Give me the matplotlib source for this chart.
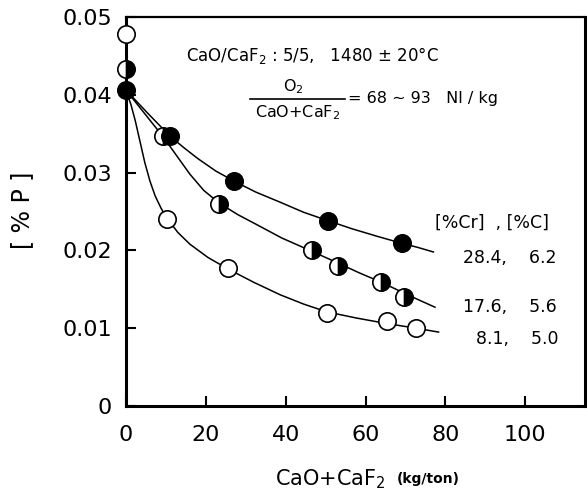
import numpy as np
import matplotlib
matplotlib.use("Agg")
import matplotlib.pyplot as plt

plt.rcParams["font.family"] = ["DejaVu Sans"]
plt.rcParams["mathtext.default"] = "regular"

open_x = [0, 10.3, 25.6, 50.3, 65.3, 72.7]
open_y = [0.0478, 0.0241, 0.0178, 0.0120, 0.0109, 0.0100]
half_x = [0, 9.3, 23.3, 46.5, 53.0, 64.0, 69.7]
half_y = [0.0433, 0.0347, 0.0260, 0.0200, 0.0180, 0.0159, 0.0140]
full_x = [0, 11.0, 27.1, 50.7, 69.2]
full_y = [0.0406, 0.0347, 0.0289, 0.0238, 0.0209]

# hand drawn curves, vertices
open_cx = [0, 1.2, 2.3, 3.5, 4.7, 6.0, 7.3, 8.8, 10.3, 13.0, 16.0, 20.5, 25.6, 32.0,
           38.6, 44.5, 50.3, 57.8, 65.3, 72.7, 78.3]
open_cy = [0.0405, 0.0388, 0.0367, 0.0340, 0.0313, 0.0289, 0.0270, 0.0254, 0.0241,
           0.0223, 0.0208, 0.0191, 0.0176, 0.0159, 0.0143, 0.0131, 0.0121, 0.0113,
           0.0106, 0.0100, 0.0095]
half_cx = [0, 9.3, 16.0, 19.5, 23.3, 28.0, 32.8, 39.0, 46.5, 53.0, 58.5, 64.0, 69.7,
           73.5, 77.4]
half_cy = [0.0406, 0.0346, 0.0298, 0.0277, 0.0261, 0.0246, 0.0233, 0.0216, 0.0199,
           0.0184, 0.0171, 0.0159, 0.0145, 0.0136, 0.0127]
full_cx = [0, 5.5, 11.0, 14.5, 18.0, 22.5, 27.1, 32.5, 38.6, 44.5, 50.7, 56.5, 63.0,
           69.2, 73.0, 77.0]
full_cy = [0.0406, 0.0376, 0.0347, 0.0332, 0.0318, 0.0302, 0.0289, 0.0275, 0.0262,
           0.0249, 0.0238, 0.0228, 0.0218, 0.0209, 0.0204, 0.0198]

series_labels = ["28.4,    6.2", "17.6,    5.6", "8.1,    5.0"]
xticks = [0, 20, 40, 60, 80, 100]
yticks = [0, 0.01, 0.02, 0.03, 0.04, 0.05]
ytick_labels = ["0", "0.01", "0.02", "0.03", "0.04", "0.05"]

fig = plt.figure(figsize=(5.87, 4.92), dpi=100)
ax = fig.add_axes([0.2147, 0.1748, 0.782, 0.7906])

lw = 1.1
ax.plot(open_cx, open_cy, color="black", lw=lw, zorder=2)
ax.plot(half_cx, half_cy, color="black", lw=lw, zorder=2)
ax.plot(full_cx, full_cy, color="black", lw=lw, zorder=2)

ms = 12.5
ax.plot(open_x, open_y, "o", ms=ms, mfc="white", mec="black", mew=1.2,
        zorder=4, clip_on=False)
ax.plot(half_x, half_y, "o", ms=ms, fillstyle="right", mfc="black",
        markerfacecoloralt="white", mec="black", mew=1.2, zorder=4, clip_on=False)
ax.plot(full_x, full_y, "o", ms=ms, mfc="black", mec="black", mew=1.2,
        zorder=4, clip_on=False)

ax.set_xlim(0, 115)
ax.set_ylim(0, 0.05)
ax.set_xticks(xticks)
ax.set_xticklabels([str(t) for t in xticks])
ax.set_yticks(yticks)
ax.set_yticklabels(ytick_labels)
ax.tick_params(direction="in", length=7, width=1.5, labelsize=16)
ax.tick_params(axis="x", pad=14)
ax.tick_params(axis="y", pad=10)

ax.spines["left"].set_linewidth(2.2)
ax.spines["bottom"].set_linewidth(2.2)
ax.spines["top"].set_linewidth(1.6)
ax.spines["right"].set_linewidth(2.2)

# conditions
ax.text(15.0, 0.0450, "CaO/CaF$_2$ : 5/5,   1480 \u00b1 20\u00b0C", fontsize=12,
        ha="left", va="center")
ax.plot([31.1, 54.9], [0.0395, 0.0395], color="black", lw=1.2)
ax.text(41.8, 0.0411, "O$_2$", fontsize=11.5, ha="center", va="center")
ax.text(43.0, 0.0377, "CaO+CaF$_2$", fontsize=11.5, ha="center", va="center")
ax.text(55.6, 0.0395, "= 68 \u223c 93   Nl / kg", fontsize=11.5, ha="left",
        va="center")

# series labels
ax.text(77.4, 0.0235, "[%Cr]  , [%C]", fontsize=12.5, ha="left", va="center")
ax.text(107.8, 0.0190, series_labels[0], fontsize=12.5, ha="right", va="center")
ax.text(107.8, 0.0127, series_labels[1], fontsize=12.5, ha="right", va="center")
ax.text(108.3, 0.0086, series_labels[2], fontsize=12.5, ha="right", va="center")

# axis labels
fig.text(22 / 587, 1 - 210 / 492, "[ % P ]", rotation=90, fontsize=17,
         ha="center", va="center")
fig.text(275 / 587, 1 - 479 / 492, "CaO+CaF$_2$", fontsize=15,
         ha="left", va="center")
fig.text(397 / 587, 1 - 479 / 492, "(kg/ton)", fontsize=10, fontweight="bold",
         ha="left", va="center")

fig.savefig("out.png", dpi=100)
